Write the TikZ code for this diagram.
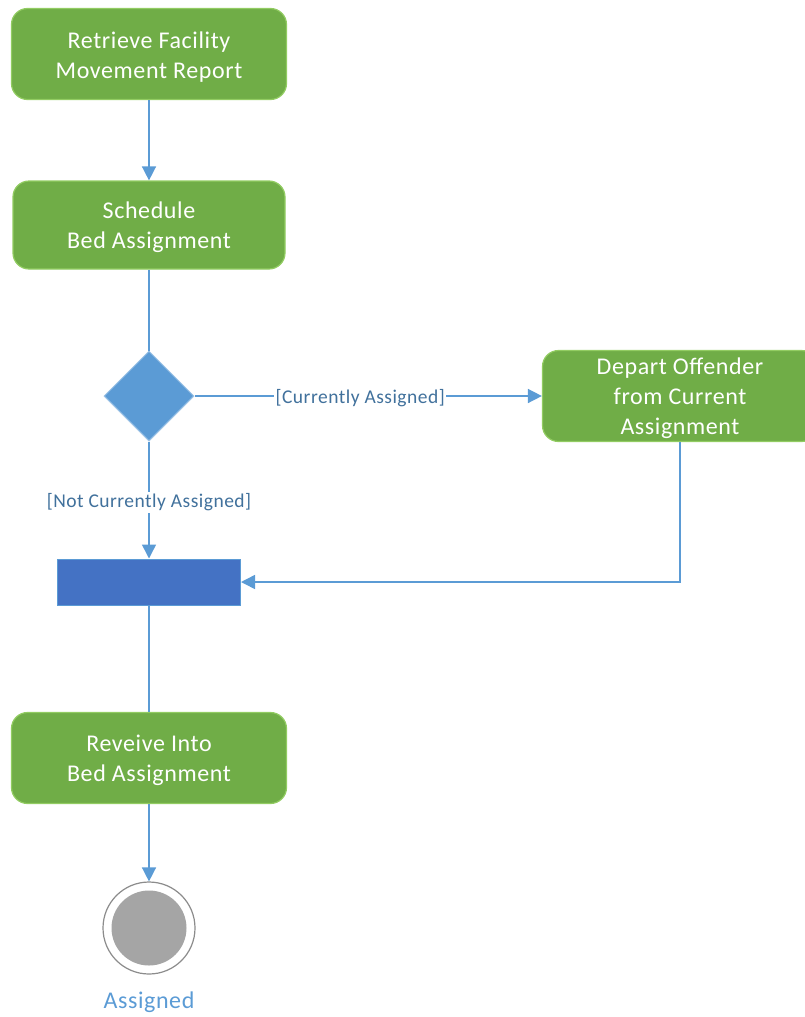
\documentclass[tikz,border=0pt]{standalone}
\usepackage{fontspec}
\setmainfont{Carlito}
\newfontfamily\calfont[LetterSpace=2.5]{Carlito}
\usetikzlibrary{arrows.meta,shapes.geometric,positioning}
\definecolor{actfill}{HTML}{70AD47}
\definecolor{actdraw}{HTML}{92CC62}
\definecolor{flow}{HTML}{5B9BD5}
\definecolor{decdraw}{HTML}{9DC3E6}
\definecolor{barfill}{HTML}{4472C4}
\definecolor{lbl}{HTML}{41719C}
\definecolor{endgray}{HTML}{A5A5A5}
\definecolor{endring}{HTML}{8C8C8C}
\newcommand\firststrut{\rule{0pt}{22pt}}
\tikzset{
  act/.style={draw=actdraw, line width=1.2pt, fill=actfill, rounded corners=16pt,
    minimum width=275pt, minimum height=91pt, text=white, align=center,
    font=\calfont\fontsize{24}{30}\selectfont, inner sep=0pt},
  dec/.style={diamond, draw=decdraw, line width=1pt, fill=flow, minimum width=90pt, minimum height=90pt, inner sep=0pt},
  barbox/.style={draw=flow, line width=1pt, fill=barfill, minimum width=183pt, minimum height=46pt, inner sep=0pt},
  flowline/.style={draw=flow, line width=1.5pt},
  arr/.style={flowline, -{Triangle[length=14pt,width=14pt]}},
  guard/.style={fill=white, text=lbl, inner sep=1.5pt, yshift=-2.5pt, font=\calfont\fontsize{19.5}{22}\selectfont},
}
\begin{document}
\begin{tikzpicture}[x=1pt,y=-1pt]
\useasboundingbox (0,0) rectangle (805,1017);
\clip (0,0) rectangle (805,1017);
\node[act] (ret) at (149,54) {\firststrut Retrieve Facility\\Movement Report};
\node[act, minimum width=272pt, minimum height=88pt] (sch) at (149,225) {\firststrut Schedule\\Bed Assignment};
\node[dec] (dec) at (149,396) {};
\node[act] (dep) at (680,396) {\firststrut Depart Offender\\from Current\\Assignment};
\node[barbox] (bar) at (149,582) {};
\node[act] (rec) at (149,758) {\firststrut Reveive Into\\Bed Assignment};
\node[circle, draw=endring, line width=1.2pt, fill=white, minimum size=92pt, inner sep=0pt] (fin) at (149,928) {};
\node[circle, fill=endgray, minimum size=75pt, inner sep=0pt] (fininner) at (fin.center) {};
\node[text=flow, font=\calfont\fontsize{24}{28}\selectfont] (finlbl) at (149,1002) {Assigned};

\draw[arr] (ret.south) -- (sch.north);
\draw[flowline] (sch.south) -- (dec.north);
\draw[arr] (dec.east) -- node[guard, pos=0.477] {[Currently Assigned]} (dep.west);
\draw[arr] (dec.south) -- node[guard, pos=0.5] {[Not Currently Assigned]} (bar.north);
\draw[arr] (dep.south) |- (bar.east);
\draw[flowline] (bar.south) -- (rec.north);
\draw[arr] (rec.south) -- (fin.north);
\end{tikzpicture}
\end{document}
